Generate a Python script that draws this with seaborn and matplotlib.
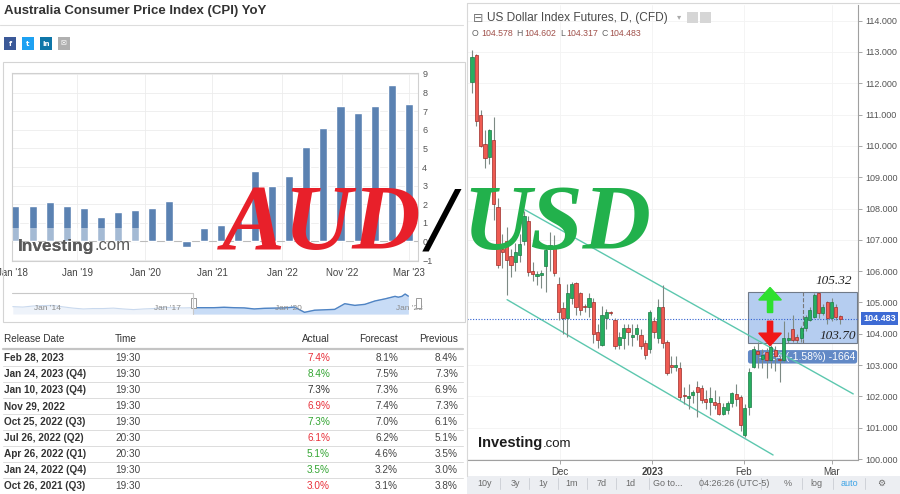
import matplotlib
matplotlib.use("Agg")
import matplotlib.pyplot as plt
import matplotlib.patches as mpatches
from matplotlib.lines import Line2D
import numpy as np
import seaborn as sns

W, H = 900, 494

# ---- Australia CPI YoY (left panel) ----
cpi_values = [1.9, 1.9, 2.1, 1.9, 1.8, 1.3, 1.6, 1.7, 1.8, 2.2, -0.3, 0.7,
              0.9, 1.1, 3.8, 3.0, 3.5, 5.1, 6.1, 7.3, 6.9, 7.3, 8.4, 7.4]
cpi_tick_pos = [-0.2, 3.6, 7.6, 11.5, 15.6, 19.1, 23.0]
cpi_tick_labels = ["Jan '18", "Jan '19", "Jan '20", "Jan '21", "Jan '22", "Nov '22", "Mar '23"]

nav_early = [2.4, 2.2, 2.7, 2.9, 3.0, 2.3, 1.7, 1.3, 1.5, 1.5, 1.7, 1.3,
             1.0, 1.3, 1.5, 2.1, 1.9, 1.8, 1.9]
nav_years = np.concatenate([np.arange(2013.25, 2018.0, 0.25),
                            np.arange(2018.0, 2023.0, 0.25),
                            [2022.83, 2022.92, 2023.0, 2023.08]])
nav_labels = ["Jan '14", "Jan '17", "Jan '20", "Jan '23"]
nav_label_years = [2014, 2017, 2020, 2023]

release_dates = ["Feb 28, 2023", "Jan 24, 2023 (Q4)", "Jan 10, 2023 (Q4)", "Nov 29, 2022",
                 "Oct 25, 2022 (Q3)", "Jul 26, 2022 (Q2)", "Apr 26, 2022 (Q1)",
                 "Jan 24, 2022 (Q4)", "Oct 26, 2021 (Q3)"]
release_times = ["19:30", "19:30", "19:30", "19:30", "19:30", "20:30", "20:30", "19:30", "19:30"]
actual = [7.4, 8.4, 7.3, 6.9, 7.3, 6.1, 5.1, 3.5, 3.0]
forecast = [8.1, 7.5, 7.3, 7.4, 7.0, 6.2, 4.6, 3.2, 3.1]
previous = [8.4, 7.3, 6.9, 7.3, 6.1, 5.1, 3.5, 3.0, 3.8]

# ---- US Dollar Index futures, daily (right panel) ----
opens = [112.05, 112.9, 111.0, 110.05, 109.65, 110.2, 108.05, 106.7, 106.95, 106.5,
         106.3, 106.52, 106.95, 107.6, 106.0, 105.85, 105.88, 106.17, 106.7, 106.8,
         105.6, 104.83, 104.5, 105.15, 105.62, 105.3, 104.9, 104.87, 105.0, 104.05,
         103.65, 104.5, 104.7, 104.45, 103.65, 103.85, 104.2, 103.9, 104.0, 103.97,
         103.7, 103.5, 104.42, 103.85, 104.87, 103.75, 103.0, 102.95, 102.9, 102.05,
         101.95, 102.05, 102.3, 102.27, 101.92, 101.83, 101.83, 101.8, 101.45, 101.58,
         101.8, 102.08, 101.98, 100.77, 101.67, 102.95, 103.45, 103.2, 103.42, 103.17,
         103.48, 103.2, 103.17, 103.8, 104.15, 103.9, 103.87, 104.2, 104.45, 104.55,
         105.3, 104.67, 105.0, 104.5, 104.87, 104.578]
highs = [113.07, 112.95, 111.15, 110.5, 110.55, 110.93, 108.35, 107.2, 107.4, 106.7,
         106.9, 107.2, 107.93, 107.75, 106.3, 106.0, 106.05, 106.85, 107.25, 107.15,
         105.8, 105.0, 105.6, 105.65, 105.65, 105.35, 104.95, 105.3, 105.15, 104.3,
         104.9, 104.8, 104.72, 104.5, 104.05, 104.3, 104.3, 104.3, 104.3, 104.15,
         103.8, 104.75, 104.55, 105.1, 105.57, 103.8, 103.3, 103.3, 103.1, 102.3,
         102.4, 102.2, 102.5, 102.35, 102.2, 102.3, 102.2, 102.0, 101.8, 101.85,
         102.15, 102.4, 102.05, 101.75, 102.9, 103.6, 103.75, 103.5, 103.55, 103.65,
         103.6, 103.3, 104.4, 104.05, 104.6, 104.0, 104.25, 104.6, 104.85, 105.3,
         105.32, 104.95, 105.05, 105.15, 104.95, 104.602]
lows = [111.7, 110.65, 109.95, 109.3, 109.43, 107.65, 106.1, 106.1, 105.25, 105.8,
        106.0, 106.3, 106.85, 105.85, 105.7, 105.55, 105.45, 105.35, 106.0, 105.85,
        104.45, 104.0, 103.9, 104.95, 104.6, 104.6, 104.7, 104.55, 103.7, 103.55,
        103.6, 104.15, 104.6, 103.5, 103.5, 103.5, 103.65, 103.6, 103.8, 103.5,
        103.2, 103.4, 103.85, 103.7, 103.55, 102.7, 102.75, 102.8, 101.9, 101.75,
        101.6, 101.8, 101.35, 101.8, 101.6, 101.4, 101.6, 101.4, 101.4, 101.45,
        101.65, 101.7, 100.9, 100.7, 101.4, 102.9, 102.9, 102.9, 102.6, 102.9,
        102.8, 102.45, 103.1, 103.7, 103.75, 103.7, 103.75, 104.1, 104.4, 104.5,
        104.5, 104.6, 104.3, 104.4, 104.45, 104.317]
closes = [112.85, 110.8, 110.0, 109.6, 110.5, 108.15, 106.2, 106.6, 106.35, 106.2,
          106.6, 106.87, 107.75, 105.98, 105.9, 105.92, 105.95, 106.68, 106.85, 105.95,
          104.7, 104.5, 105.3, 105.6, 104.87, 104.77, 104.85, 105.13, 104.0, 103.8,
          104.6, 104.7, 104.65, 103.6, 103.9, 104.2, 104.05, 103.95, 104.2, 103.6,
          103.33, 104.7, 104.05, 104.87, 103.7, 102.75, 102.95, 103.0, 101.98, 102.0,
          102.0, 102.15, 102.15, 101.9, 101.83, 101.95, 101.73, 101.45, 101.67, 101.8,
          102.1, 101.92, 101.1, 101.63, 102.78, 103.52, 103.35, 103.33, 103.17, 103.58,
          103.3, 103.15, 103.87, 103.87, 103.8, 103.8, 104.2, 104.55, 104.77, 105.25,
          104.67, 104.87, 104.5, 105.03, 104.55, 104.483]
dxy_tick_pos = [20.3, 41.6, 62.8, 83.1]
dxy_tick_labels = ["Dec", "2023", "Feb", "Mar"]
price_ticks = list(range(100, 115))
last_price = 104.483

channel_upper_x, channel_upper_y = [12.2, 88.0], [107.96, 102.08]
channel_lower_x, channel_lower_y = [8.1, 69.5], [105.09, 100.13]
measure_x = [63.7, 88.9]
measure_low, measure_high = 103.70, 105.32
measure_mid = 76.4
measure_text = "-1.64 (-1.58%) -1664"
toolbar_items = ["10y", "3y", "1y", "1m", "7d", "1d", "Go to...", "04:26:26 (UTC-5)", "%", "log", "auto", "\u2699"]

sns.set_theme(style="white")
plt.rcParams["font.family"] = ["Liberation Sans", "DejaVu Sans"]

fig = plt.figure(figsize=(9, 4.94), dpi=100)


def box(x0, y0, x1, y1):
    return [x0 / W, 1 - y1 / H, (x1 - x0) / W, (y1 - y0) / H]


def ft(x, y, s, **kw):
    return fig.text(x / W, 1 - y / H, s, **kw)


def frect(x0, y0, x1, y1, **kw):
    fig.add_artist(mpatches.Rectangle((x0 / W, 1 - y1 / H), (x1 - x0) / W, (y1 - y0) / H,
                                      transform=fig.transFigure, **kw))


def fline(xs, ys, **kw):
    fig.add_artist(Line2D([x / W for x in xs], [1 - y / H for y in ys],
                          transform=fig.transFigure, **kw))


# left panel header
ft(4, 11, "Australia Consumer Price Index (CPI) YoY", fontsize=9.5, weight="bold",
   color="#333333", va="center")
fline([0, 463], [25, 25], color="#dddddd", lw=0.8)
for x0, c, s in [(4, "#3b5998", "f"), (22, "#1da1f2", "t"), (40, "#0e76a8", "in"), (58, "#b0b0b0", "\u2709")]:
    frect(x0, 37, x0 + 12, 50, facecolor=c, edgecolor="none")
    ft(x0 + 6, 43.5, s, color="white", fontsize=5, ha="center", va="center", weight="bold",
       family=["DejaVu Sans"])
frect(3, 62, 465, 322, facecolor="none", edgecolor="#d4d4d4", lw=0.8)

# CPI bars
ax = fig.add_axes(box(12, 73, 418, 261))
idx = np.arange(len(cpi_values))
sns.barplot(x=idx, y=cpi_values, color="#5b82b2", saturation=1, width=0.47, ax=ax, zorder=2)
ax.set_xlim(-0.175, 23.53)
ax.set_ylim(-1.05, 9.05)
ax.set_yticks(range(-1, 10))
ax.yaxis.tick_right()
ax.tick_params(axis="y", length=0, labelsize=6.5, colors="#555555", pad=3)
ax.set_xticks(cpi_tick_pos, cpi_tick_labels)
ax.tick_params(axis="x", length=0, labelsize=7, colors="#444444", pad=5)
ax.grid(True, color="#ececec", lw=0.6)
ax.set_axisbelow(True)
ax.axhline(0, color="#bbbbbb", lw=0.8, zorder=1)
ax.set_xlabel("")
ax.set_ylabel("")
for sp in ax.spines.values():
    sp.set_color("#d0d0d0")
    sp.set_linewidth(0.8)
ax.add_patch(mpatches.Rectangle((-0.175, 0), 7.5, 0.7, facecolor="white", alpha=0.45,
                                edgecolor="none", zorder=3))
wm = ft(18, 246, "Investing", fontsize=12.5, weight="bold", color="#5a5a5a", va="center")
fig.texts.append(wm)
ax.annotate(".com", xy=(1, 0), xycoords=wm, va="bottom", fontsize=12, color="#5a5a5a")

# navigator
axn = fig.add_axes(box(12, 293, 418, 314))
nav_values = nav_early + cpi_values
nav_lo = -1.1
axn.fill_between(nav_years, nav_values, nav_lo, color="#eef3fa", lw=0)
axn.plot(nav_years, nav_values, color="#c9d9ee", lw=0.8)
sel = mpatches.Rectangle((2017.73, nav_lo), 6, 12, transform=axn.transData)
f2 = axn.fill_between(nav_years, nav_values, nav_lo, color="#c8dcf6", lw=0)
f2.set_clip_path(sel)
l2 = sns.lineplot(x=nav_years, y=nav_values, color="#4f84c4", lw=1, ax=axn).lines[-1]
l2.set_clip_path(sel)
axn.set_xlim(2013.23, 2023.32)
axn.set_ylim(nav_lo, 8.9)
axn.axis("off")
for yr, lab in zip(nav_label_years, nav_labels):
    axn.text(yr + 0.1, 1.3, lab, fontsize=6, color="#8a8a8a", ha="center", va="center")
fline([12, 193, 193], [293, 293, 314], color="#c8c8c8", lw=0.8)
for hx in [193, 418]:
    frect(hx - 2.5, 298, hx + 2.5, 308, facecolor="white", edgecolor="#999999", lw=0.7)

# table
cols_r = [330, 398, 458]
ft(4, 339, "Release Date", fontsize=7.2, color="#333333", va="center")
ft(115, 339, "Time", fontsize=7.2, color="#333333", va="center")
for x, s in zip(cols_r, ["Actual", "Forecast", "Previous"]):
    ft(x, 339, s, fontsize=7.2, color="#333333", va="center", ha="right")
fline([3, 463], [349, 349], color="#c4c4c4", lw=1.6)
for i in range(len(release_dates)):
    y = 358 + 16 * i
    if actual[i] > forecast[i]:
        ac = "#33a532"
    elif actual[i] < forecast[i]:
        ac = "#e8303a"
    else:
        ac = "#333333"
    ft(4, y, release_dates[i], fontsize=7.2, color="#333333", va="center", weight="semibold")
    ft(115, y, release_times[i], fontsize=7.2, color="#444444", va="center")
    ft(cols_r[0], y, f"{actual[i]:.1f}%", fontsize=7.2, color=ac, va="center", ha="right")
    ft(cols_r[1], y, f"{forecast[i]:.1f}%", fontsize=7.2, color="#444444", va="center", ha="right")
    ft(cols_r[2], y, f"{previous[i]:.1f}%", fontsize=7.2, color="#444444", va="center", ha="right")
    fline([3, 463], [y + 8, y + 8], color="#dcdcdc", lw=0.7)

# ---- right panel ----
fline([467, 900], [3, 3], color="#d8d8d8", lw=0.8)
fline([467, 467], [3, 476], color="#d8d8d8", lw=0.8)
axr = fig.add_axes(box(467, 5, 858, 460))
ci = np.arange(len(opens))
o, h, l, c = map(np.array, (opens, highs, lows, closes))
up = c >= o
body_c = np.where(up, "#27ae60", "#ef5b52")
edge_c = np.where(up, "#1b7a45", "#9e2b27")
axr.vlines(ci, l, h, color="#7d8a84", lw=0.8, zorder=3)
axr.bar(ci, np.maximum(np.abs(c - o), 0.03), bottom=np.minimum(o, c), width=0.72,
        color=body_c, edgecolor=edge_c, lw=0.5, zorder=4)

axr.add_patch(mpatches.Rectangle((measure_x[0], measure_low), measure_x[1] - measure_x[0],
                                 measure_high - measure_low, facecolor="#b5cdf0",
                                 edgecolor="#707a88", lw=0.8, zorder=1))
axr.vlines(measure_mid, measure_low, measure_high, color="#777777", lw=0.8, ls="--", zorder=1.2)
axr.add_patch(mpatches.FancyBboxPatch((measure_x[0], 103.05), measure_x[1] - measure_x[0], 0.43,
                                      boxstyle="round,pad=0,rounding_size=0.6",
                                      facecolor="#6289c6", edgecolor="none", zorder=1.5,
                                      mutation_aspect=0.12))
axr.text(88.4, 103.27, measure_text, color="white", fontsize=7.5, ha="right", va="center", zorder=1.6)
sns.lineplot(x=channel_upper_x, y=channel_upper_y, color="#5cc7ae", lw=1, ax=axr, zorder=2)
sns.lineplot(x=channel_lower_x, y=channel_lower_y, color="#5cc7ae", lw=1, ax=axr, zorder=2)
axr.axhline(last_price, color="#2f5fd0", lw=0.8, ls=(0, (1, 1.5)), zorder=2.5)

axr.add_patch(mpatches.FancyArrow(68.8, 104.68, 0, 0.8, width=1.2, head_width=5.2,
                                  head_length=0.4, length_includes_head=True,
                                  color="#2ee02e", zorder=5))
axr.add_patch(mpatches.FancyArrow(68.8, 104.4, 0, -0.78, width=1.2, head_width=5.2,
                                  head_length=0.4, length_includes_head=True,
                                  color="#f01818", zorder=5))
axr.text(83.4, 105.69, f"{measure_high:.2f}", family="Liberation Serif", style="italic",
         fontsize=9.5, color="#222222", ha="center", va="center", zorder=6)
axr.text(84.5, 103.94, f"{measure_low:.2f}", family="Liberation Serif", style="italic",
         fontsize=9.5, color="#222222", ha="center", va="center", zorder=6)

axr.set_xlim(-1.15, 89.1)
axr.set_ylim(99.97, 114.5)
axr.set_yticks(price_ticks, [f"{p:.3f}" for p in price_ticks])
axr.yaxis.tick_right()
axr.tick_params(axis="y", length=3, width=0.6, color="#999999", labelsize=6.5,
                labelcolor="#555555", pad=2, right=True)
axr.set_xticks(dxy_tick_pos, dxy_tick_labels)
axr.tick_params(axis="x", length=3, width=0.6, color="#999999", labelsize=7,
                labelcolor="#444444", pad=2, bottom=True)
axr.get_xticklabels()[1].set_fontweight("bold")
axr.grid(True, color="#f3f3f3", lw=0.6)
axr.set_axisbelow(True)
for k, sp in axr.spines.items():
    sp.set_color("#a0a0a0")
    sp.set_linewidth(0.8)
axr.spines["top"].set_visible(False)
axr.spines["left"].set_visible(False)
axr.annotate(f"{last_price:.3f}", xy=(1, last_price), xycoords=("axes fraction", "data"),
             xytext=(4, 0), textcoords="offset points", ha="left", va="center",
             fontsize=6.5, color="white", weight="bold",
             bbox=dict(boxstyle="square,pad=0.25", fc="#3e6bd4", ec="none"))

ft(473, 18, "\u229f", fontsize=9, color="#777777", va="center", family=["DejaVu Sans"])
ft(487, 18, "US Dollar Index Futures, D, (CFD)", fontsize=8.6, color="#4a4a4a", va="center")
ft(677, 17, "\u25be", fontsize=6, color="#aaaaaa", va="center", family=["DejaVu Sans"])
frect(687, 12, 698, 23, facecolor="#d6d6d6", edgecolor="none")
frect(700, 12, 711, 23, facecolor="#d6d6d6", edgecolor="none")
for x, s, col in [(472, "O", "#666666"), (481, "104.578", "#a0504a"), (516, "H", "#666666"),
                  (524, "104.602", "#a0504a"), (560, "L", "#666666"), (566, "104.317", "#a0504a"),
                  (601, "C", "#666666"), (609, "104.483", "#a0504a")]:
    ft(x, 33, s, fontsize=6.3, color=col, va="center")

wm2 = ft(478, 443, "Investing", fontsize=10.5, weight="bold", color="#1c1c1c", va="center")
axr.annotate(".com", xy=(1, 0), xycoords=wm2, va="bottom", fontsize=9.5, color="#1c1c1c")

frect(467, 476, 900, 494, facecolor="#eceef2", edgecolor="none")
tb_x = [485, 515, 543, 572, 602, 630, 668, 734, 788, 816, 849, 881]
for i, (x, s) in enumerate(zip(tb_x, toolbar_items)):
    ft(x, 483, s, fontsize=6.5, color="#3ba3e6" if s == "auto" else "#6a6a6a",
       ha="center", va="center", family=["DejaVu Sans"] if s == "\u2699" else None)
    if i < len(tb_x) - 1:
        sx = (x + tb_x[i + 1]) / 2
        fline([sx, sx], [478, 489], color="#cfd2d8", lw=0.7)

# big overlay title
ft(222, 249, "AUD", family="Liberation Serif", style="italic", weight="bold",
   fontsize=68, color="#e8202a", va="baseline")
ft(441, 249, "/", family="Liberation Serif", style="italic", weight="bold",
   fontsize=68, color="#000000", va="baseline", ha="center")
ft(462, 249, "USD", family="Liberation Serif", style="italic", weight="bold",
   fontsize=68, color="#22b14c", va="baseline")

fig.savefig("out.png", dpi=100)
